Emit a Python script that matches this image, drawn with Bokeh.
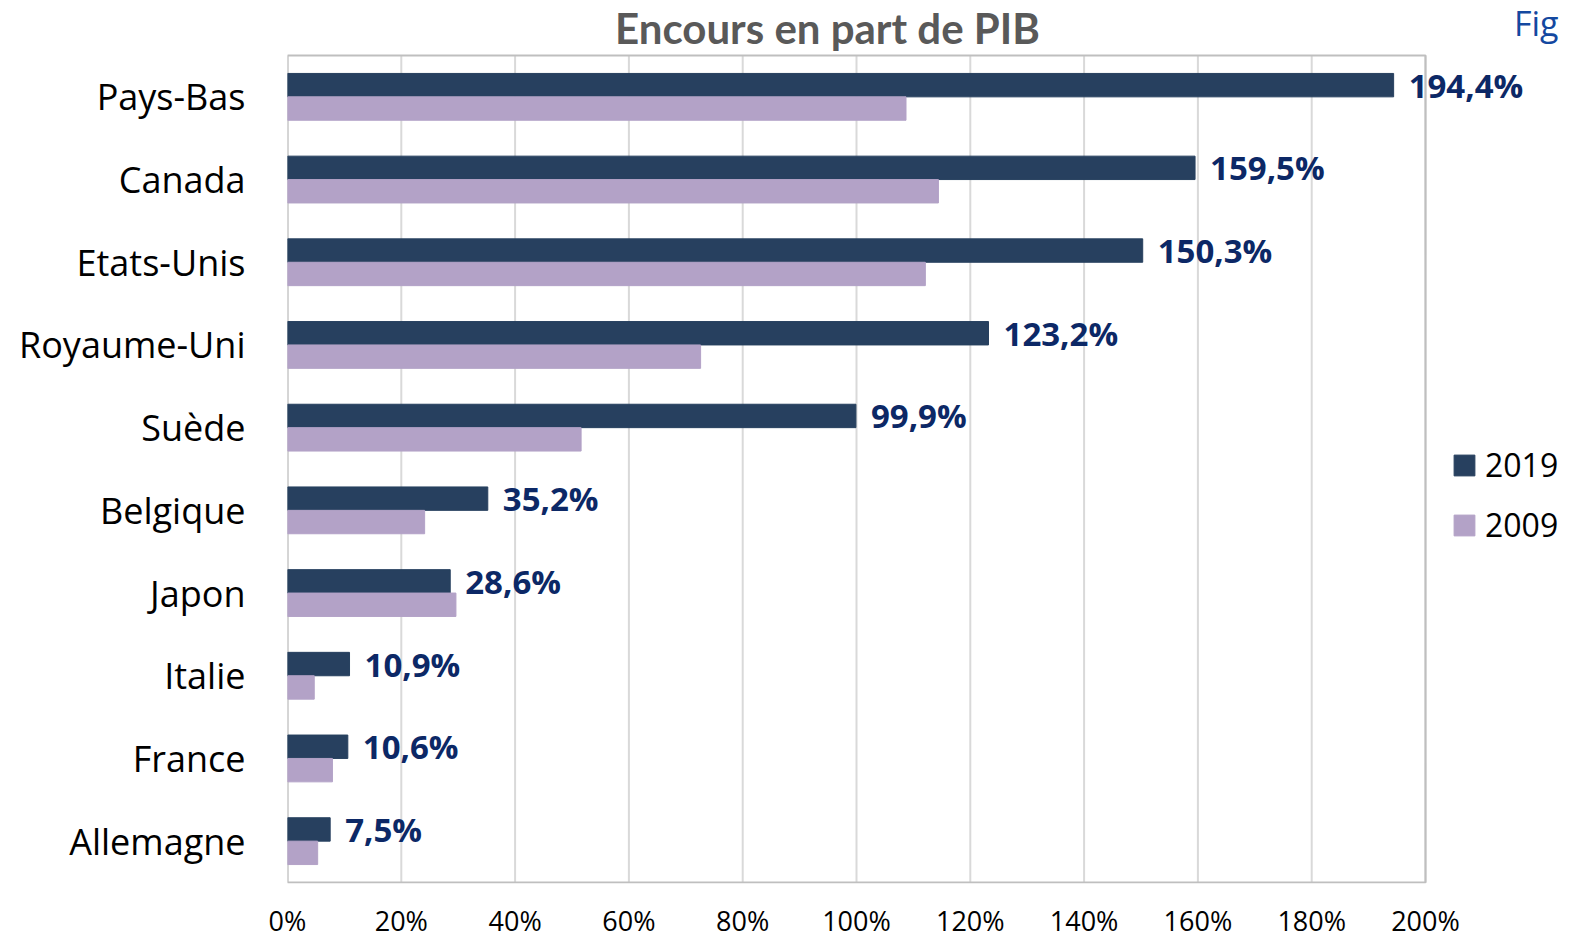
from bokeh.plotting import figure
from bokeh.models import (ColumnDataSource, Range1d, FixedTicker,
                          PrintfTickFormatter, Legend, LegendItem, Label)
from bokeh.core.properties import value
from bokeh.embed import file_html
from bokeh.resources import INLINE

countries = ["Pays-Bas", "Canada", "Etats-Unis", "Royaume-Uni", "Suède",
             "Belgique", "Japon", "Italie", "France", "Allemagne"]
v2019 = [194.4, 159.5, 150.3, 123.2, 99.9, 35.2, 28.6, 10.9, 10.6, 7.5]
v2009 = [108.7, 114.4, 112.1, 72.6, 51.6, 24.1, 29.6, 4.7, 7.9, 5.3]
x_ticks = [0, 20, 40, 60, 80, 100, 120, 140, 160, 180, 200]
series_names = ["2019", "2009"]
chart_title = "Encours en part de PIB"
corner_text = "Fig"

n = len(countries)
ypos = [n - 0.5 - i for i in range(n)]
labels2019 = [f"{v:.1f}".replace(".", ",") + "%" for v in v2019]

FONT = "Open Sans"
C2019 = "#27405F"
C2009 = "#B3A2C7"
LABEL_C = "#0C2866"

# layout (pixels)
LEFT = 287
PX_Y = 82.7             # pixels per category
FRAME_W = 1560 - LEFT
PLOT_W = 1138           # pixels for 0..200 %
TOP_PAD = 55
FRAME_H = 883
BH = 0.283

src = ColumnDataSource(dict(country=countries, y=ypos, v2019=v2019, v2009=v2009,
                            lab=labels2019,
                            y19=[y + BH / 2 for y in ypos],
                            y09=[y - BH / 2 for y in ypos]))

x_max = x_ticks[-1]
p = figure(
    x_range=Range1d(0, x_max * FRAME_W / PLOT_W),
    y_range=Range1d(-1 / PX_Y, n + TOP_PAD / PX_Y),
    frame_width=FRAME_W, frame_height=FRAME_H,
    min_border_left=LEFT, min_border_right=0, min_border_top=0, min_border_bottom=0,
    output_backend="svg", toolbar_location=None,
)
p.background_fill_color = "white"
p.border_fill_color = "white"
p.outline_line_color = None
p.xgrid.grid_line_color = None
p.ygrid.grid_line_color = None

# grid lines
p.segment(x0=x_ticks, x1=x_ticks, y0=[0] * len(x_ticks), y1=[n] * len(x_ticks),
          line_color="#D9D9D9", line_width=2)
# plot-area border
p.quad(left=[0], right=[x_max], bottom=[0], top=[n], fill_color=None,
       line_color="#BFBFBF", line_width=2)

r1 = p.hbar(y="y19", right="v2019", left=0, height=BH, source=src,
            fill_color=C2019, line_color=C2019)
r2 = p.hbar(y="y09", right="v2009", left=0, height=BH, source=src,
            fill_color=C2009, line_color=C2009)

p.text(x="v2019", y="y19", text="lab", source=src,
       x_offset=15, y_offset=0, text_baseline="middle", text_align="left",
       text_font=value(FONT), text_font_style="bold", text_font_size="33px",
       text_color=LABEL_C)

# axes
p.xaxis.ticker = FixedTicker(ticks=x_ticks)
p.xaxis.formatter = PrintfTickFormatter(format="%d%%")
p.xaxis.axis_line_color = None
p.xaxis.major_tick_line_color = None
p.xaxis.minor_tick_line_color = None
p.xaxis.major_tick_out = 0
p.xaxis.major_label_standoff = 18
p.xaxis.major_label_text_font = FONT
p.xaxis.major_label_text_font_size = "27px"
p.xaxis.major_label_text_color = "#000000"

p.yaxis.ticker = FixedTicker(ticks=ypos)
p.yaxis.major_label_overrides = {y: c for y, c in zip(ypos, countries)}
p.yaxis.axis_line_color = None
p.yaxis.major_tick_line_color = None
p.yaxis.minor_tick_line_color = None
p.yaxis.major_tick_out = 0
p.yaxis.major_label_standoff = 42
p.yaxis.major_label_text_font = FONT
p.yaxis.major_label_text_font_size = "36px"
p.yaxis.major_label_text_color = "#000000"

legend = Legend(
    items=[LegendItem(label=series_names[0], renderers=[r1]),
           LegendItem(label=series_names[1], renderers=[r2])],
    location=(1164, 337),
    glyph_width=26, glyph_height=26, label_height=40, spacing=17,
    label_standoff=8, padding=0, margin=0,
    label_text_font=FONT, label_text_font_size="32px", label_text_color="#000000",
    border_line_color=None, background_fill_alpha=0,
)
p.add_layout(legend, "center")

title_lab = Label(x=540, y=856, x_units="screen", y_units="screen", text=chart_title,
                  text_font="Lato", text_font_size="42px", text_font_style="bold",
                  text_color="#595959", text_align="center", text_baseline="alphabetic")
p.add_layout(title_lab)

fig_lab = Label(x=FRAME_W - 2, y=861, x_units="screen", y_units="screen", text=corner_text,
                text_font=FONT, text_font_size="34px", text_color="#1448A0",
                text_align="right", text_baseline="alphabetic")
p.add_layout(fig_lab)

open("out.html", "w").write(file_html(p, INLINE))
